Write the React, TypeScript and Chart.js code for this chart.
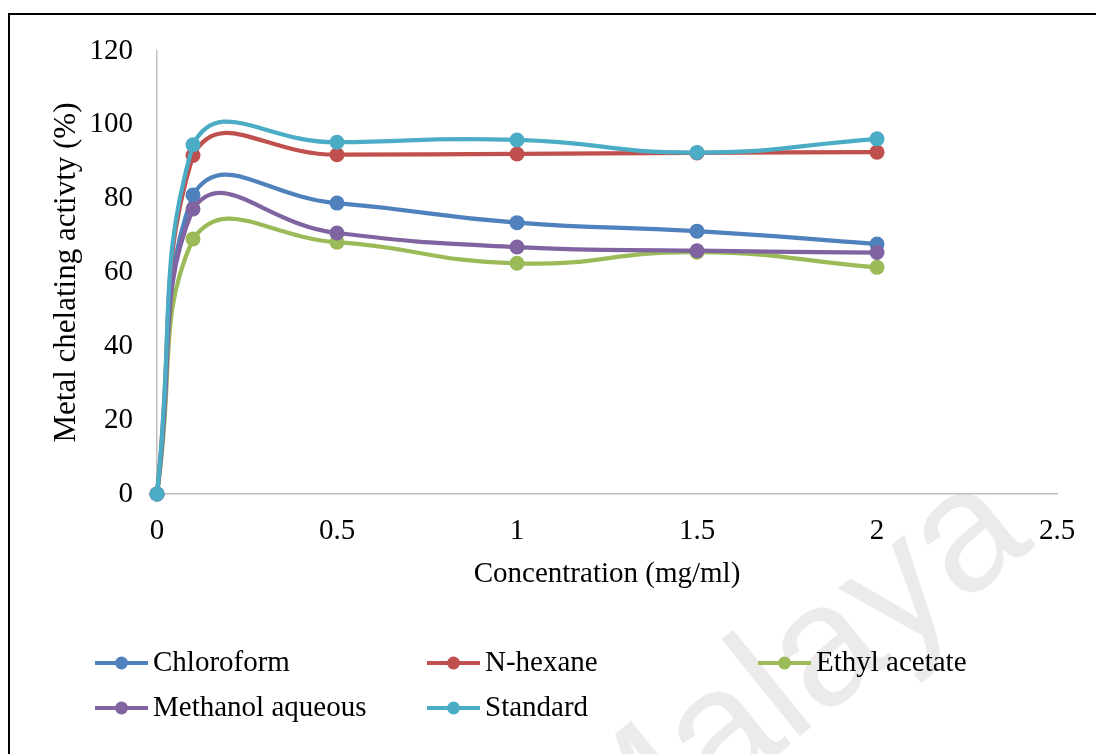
import React, { useEffect, useRef } from "react";
import { Chart, registerables } from "chart.js";

Chart.register(...registerables);

// ---- data ----
const concentrations = [0, 0.1, 0.5, 1, 1.5, 2];
const chloroform = [0, 81.0, 78.8, 73.5, 71.2, 67.7];
const nHexane = [0, 91.7, 91.9, 92.1, 92.4, 92.6];
const ethylAcetate = [0, 69.1, 68.2, 62.5, 65.5, 61.4];
const methanolAqueous = [0, 77.2, 70.7, 66.9, 65.9, 65.4];
const standard = [0, 94.6, 95.3, 95.9, 92.5, 96.2];

const seriesNames = ["Chloroform", "N-hexane", "Ethyl acetate", "Methanol aqueous", "Standard"];
const seriesValues = [chloroform, nHexane, ethylAcetate, methanolAqueous, standard];
const seriesColors = ["#4F81BD", "#C0504D", "#9BBB59", "#8064A2", "#4BACC6"];

const xTickLabels = ["0", "0.5", "1", "1.5", "2", "2.5"];
const yTickLabels = ["0", "20", "40", "60", "80", "100", "120"];
const xTitle = "Concentration (mg/ml)";
const yTitle = "Metal chelating activty (%)";
const watermarkText = "Malaya";

const FONT = "'Liberation Serif', 'Times New Roman', serif";

const watermarkPlugin = {
  id: "watermark",
  beforeDraw(chart: any) {
    const ctx = chart.ctx;
    ctx.save();
    ctx.translate(1026, 530);
    ctx.rotate((-39 * Math.PI) / 180);
    ctx.fillStyle = "rgba(0,0,0,0.08)";
    ctx.font = "172px 'Liberation Sans', Arial, sans-serif";
    ctx.textAlign = "right";
    ctx.textBaseline = "alphabetic";
    ctx.fillText(watermarkText, 0, 0);
    ctx.restore();
  },
};

const legendPlugin = {
  id: "excelLegend",
  afterDraw(chart: any) {
    const ctx = chart.ctx;
    const cols = [85, 417, 748];
    const rows = [648, 693];
    ctx.save();
    chart.data.datasets.forEach((ds: any, i: number) => {
      const x = cols[i % 3];
      const y = rows[Math.floor(i / 3)];
      ctx.strokeStyle = ds.borderColor;
      ctx.lineWidth = 4;
      ctx.lineCap = "butt";
      ctx.beginPath();
      ctx.moveTo(x, y);
      ctx.lineTo(x + 53, y);
      ctx.stroke();
      ctx.fillStyle = ds.backgroundColor;
      ctx.beginPath();
      ctx.arc(x + 26.5, y, 6.5, 0, Math.PI * 2);
      ctx.fill();
      ctx.fillStyle = "#000";
      ctx.font = `29px ${FONT}`;
      ctx.textAlign = "left";
      ctx.textBaseline = "middle";
      ctx.fillText(ds.label, x + 58, y);
    });
    ctx.restore();
  },
};

export default function App() {
  const canvasRef = useRef<HTMLCanvasElement | null>(null);

  useEffect(() => {
    document.body.style.overflow = "hidden";
    const canvas = canvasRef.current;
    if (!canvas) return;
    const datasets = seriesNames.map((name, i) => ({
      label: name,
      data: concentrations.map((c, j) => ({ x: c, y: seriesValues[i][j] })),
      borderColor: seriesColors[i],
      backgroundColor: seriesColors[i],
      pointBackgroundColor: seriesColors[i],
      pointBorderColor: seriesColors[i],
      pointRadius: 7.5,
      pointBorderWidth: 0,
      borderWidth: 4.25,
      showLine: true,
      tension: 0.5,
      clip: false,
      order: seriesNames.length - i,
    }));

    const chart = new Chart(canvas, {
      type: "scatter",
      data: { datasets },
      plugins: [watermarkPlugin, legendPlugin],
      options: {
        animation: false,
        responsive: false,
        maintainAspectRatio: false,
        layout: { padding: { left: 0, top: 36, right: 39, bottom: 0 }, autoPadding: false },
        plugins: {
          legend: { display: false },
          tooltip: { enabled: false },
        },
        scales: {
          x: {
            type: "linear",
            min: 0,
            max: 2.5,
            afterFit(scale: any) {
              scale.height = 260;
              scale.paddingLeft = 0;
              scale.paddingRight = 0;
            },
            ticks: {
              stepSize: 0.5,
              padding: 0,
              color: "#000",
              font: { family: FONT, size: 29 },
              callback: (_v: any, idx: number) => xTickLabels[idx],
              maxRotation: 0,
            },
            grid: { display: false, drawTicks: true, tickLength: 20 },
            border: { display: true, color: "#BFBFBF", width: 1.5 },
            title: {
              display: true,
              text: xTitle,
              color: "#000",
              font: { family: FONT, size: 29 },
              padding: { top: 0, bottom: 162 },
            },
          },
          y: {
            type: "linear",
            min: 0,
            max: 120,
            afterFit(scale: any) {
              scale.width = 147;
              scale.paddingTop = 0;
              scale.paddingBottom = 0;
            },
            ticks: {
              stepSize: 20,
              padding: 0,
              color: "#000",
              font: { family: FONT, size: 29 },
              callback: (_v: any, idx: number) => yTickLabels[idx],
            },
            grid: { display: false, drawTicks: true, tickLength: 24 },
            border: { display: true, color: "#BFBFBF", width: 1.5 },
            title: {
              display: true,
              text: yTitle,
              color: "#000",
              font: { family: FONT, size: 31 },
              padding: { top: 38, bottom: 0 },
            },
          },
        },
      },
    } as any);

    return () => chart.destroy();
  }, []);

  return (
    <div
      style={{
        position: "absolute",
        left: 8,
        top: 13,
        width: 1088,
        height: 741,
        borderLeft: "2px solid #000",
        borderTop: "2px solid #000",
        boxSizing: "border-box",
        background: "#fff",
      }}
    >
      <canvas ref={canvasRef} width={1086} height={739} style={{ display: "block" }} />
    </div>
  );
}
